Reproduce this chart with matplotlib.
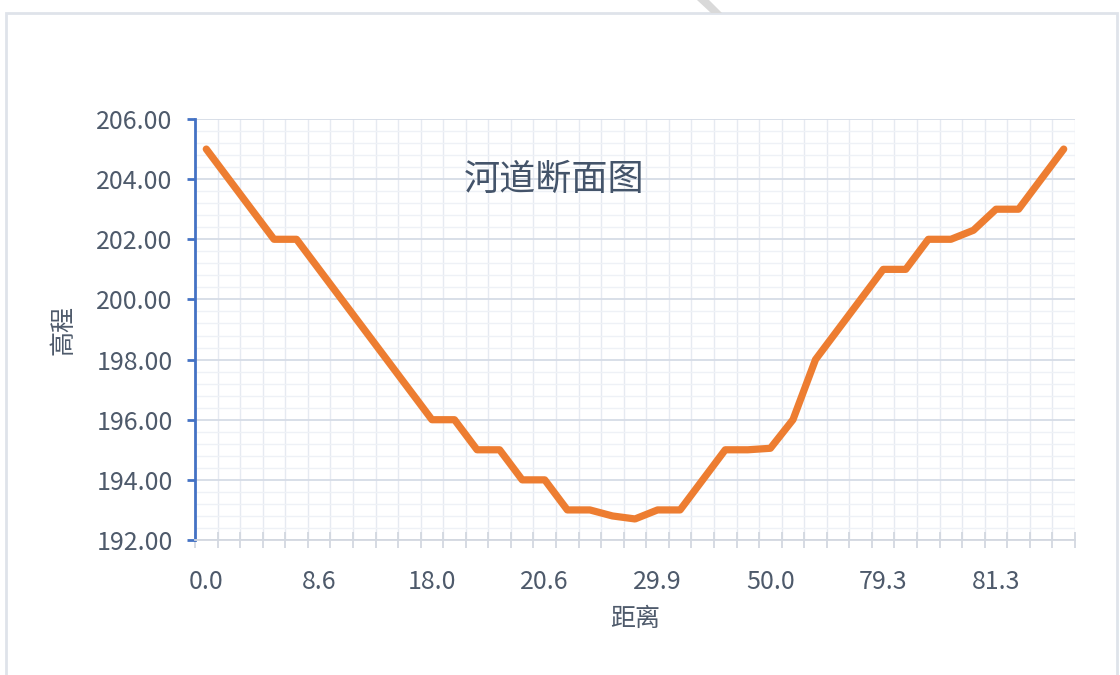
import numpy as np
import matplotlib.pyplot as plt
from matplotlib.patches import Rectangle, Polygon
from matplotlib.ticker import MultipleLocator

plt.rcParams['font.family'] = ['Noto Sans CJK SC', 'DejaVu Sans']

# elevation at each survey point along the cross section
elevation = [205, 204, 203, 202, 202, 201, 200, 199, 198, 197,
             196, 196, 195, 195, 194, 194, 193, 193, 192.8, 192.7,
             193, 193, 194, 195, 195, 195.05, 196, 198, 199, 200,
             201, 201, 202, 202, 202.3, 203, 203, 204, 205]
# distance labels shown on the category axis (every 5th point)
label_pos = [0, 5, 10, 15, 20, 25, 30, 35]
dist_labels = ['0.0', '8.6', '18.0', '20.6', '29.9', '50.0', '79.3', '81.3']

text_color = '#4E5A6B'
x = np.arange(len(elevation))

fig = plt.figure(figsize=(11.2, 6.75), dpi=100)
ax = fig.add_axes([195 / 1120, 1 - 540 / 675, 880 / 1120, 421 / 675])

# grid: major every 2, minor every 0.4, vertical lines on category boundaries
ax.set_ylim(192, 206)
ax.set_xlim(-0.5, len(elevation) - 0.5)
ax.yaxis.set_major_locator(MultipleLocator(2))
ax.yaxis.set_minor_locator(MultipleLocator(0.4))
ax.set_xticks(label_pos)
ax.set_xticklabels(dist_labels)
ax.set_xticks(np.arange(-0.5, len(elevation)), minor=True)
ax.grid(which='major', axis='y', color='#D6DCE6', lw=1.3, zorder=0)
ax.grid(which='minor', axis='y', color='#EEF1F6', lw=1.0, zorder=0)
ax.grid(which='minor', axis='x', color='#E6EAF1', lw=1.0, zorder=0)
ax.set_axisbelow(True)

ax.plot(x, elevation, color='#ED7D31', lw=5.2, solid_joinstyle='round',
        solid_capstyle='round', zorder=3)

# axes styling
for s in ['top', 'right']:
    ax.spines[s].set_visible(False)
ax.spines['left'].set_color('#4472C4')
ax.spines['left'].set_linewidth(2)
ax.spines['bottom'].set_color('#D3D8E0')
ax.spines['bottom'].set_linewidth(1.3)
ax.yaxis.set_major_formatter(plt.FormatStrFormatter('%.2f'))
ax.tick_params(axis='y', which='major', direction='out', length=6, width=2,
               color='#4472C4', labelsize=18, labelcolor=text_color, pad=10)
ax.tick_params(axis='y', which='minor', length=0)
ax.tick_params(axis='x', which='major', length=0, labelsize=18,
               labelcolor=text_color, pad=21)
ax.tick_params(axis='x', which='minor', direction='inout', length=12,
               width=1.3, color='#D3D8E0')

ax.set_xlabel('距离', fontsize=18, color=text_color, labelpad=8)
ax.set_ylabel('高程', fontsize=18, color=text_color, labelpad=14)
ax.text(0.408, 0.855, '河道断面图', transform=ax.transAxes, fontsize=26,
        fontweight='medium', color='#44546A', ha='center', va='center')

# chart frame and the small shape cut off at the top edge
fig.add_artist(Rectangle((6 / 1120, -0.05), 1111 / 1120, 1.05 - 13 / 675,
                         transform=fig.transFigure, fill=False,
                         edgecolor='#DFE3EA', lw=2))
fig.add_artist(Polygon([(697 / 1120, 1.0), (709 / 1120, 1.0),
                        (722 / 1120, 1 - 13 / 675), (711 / 1120, 1 - 13 / 675)],
                       closed=True, transform=fig.transFigure,
                       facecolor='#D9D9D9', edgecolor='none'))

fig.savefig('out.png', dpi=100)
